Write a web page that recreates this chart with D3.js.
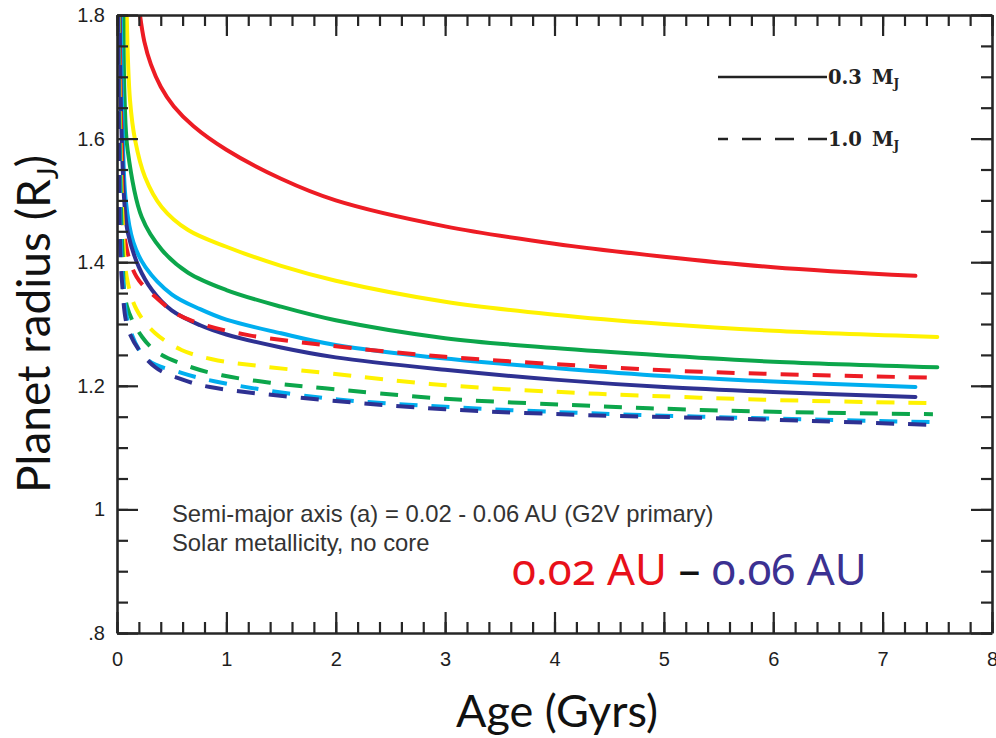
<!DOCTYPE html>
<html>
<head>
<meta charset="utf-8">
<script src="https://cdn.jsdelivr.net/npm/d3@7"></script>
<style>
  body { margin: 0; background: #fff; }
  svg { display: block; }
</style>
</head>
<body>
<svg id="chart" width="996" height="738"></svg>
<script>
// Axis ticks and their labels
const xTicks = [0, 1, 2, 3, 4, 5, 6, 7, 8];
const xTickLabels = ["0", "1", "2", "3", "4", "5", "6", "7", "8"];
const yTicks = [1.8, 1.6, 1.4, 1.2, 1.0, 0.8];
const yTickLabels = ["1.8", "1.6", "1.4", "1.2", "1", ".8"];

// Orbital distances of the five model tracks and their colours
const orbits = ["0.02 AU", "0.03 AU", "0.04 AU", "0.05 AU", "0.06 AU"];
const orbitColors = ["#ed1c24", "#fff200", "#0ca64b", "#00aeef", "#2e3192"];

// Radius (R_J) vs age (Gyr), 0.3 M_J planets: [age, radius]
const light002 = [[0.21,1.80],[0.25,1.757],[0.31,1.720],[0.4,1.684],[0.52,1.652],[0.7,1.620],[1.0,1.582],[1.5,1.535],[2.0,1.500],[3.0,1.458],[4.0,1.430],[5.0,1.409],[6.0,1.392],[7.3,1.378]];
const light003 = [[0.089,1.80],[0.119,1.662],[0.165,1.598],[0.256,1.538],[0.41,1.489],[0.65,1.452],[1.0,1.425],[1.5,1.394],[2.0,1.370],[3.0,1.336],[4.0,1.315],[5.0,1.300],[6.0,1.289],[7.5,1.279]];
const light004 = [[0.058,1.80],[0.07,1.662],[0.097,1.582],[0.226,1.473],[0.41,1.420],[0.65,1.383],[1.0,1.355],[1.5,1.328],[2.0,1.306],[3.0,1.277],[4.0,1.261],[5.0,1.249],[6.0,1.239],[7.5,1.230]];
const light005 = [[0.035,1.80],[0.05,1.63],[0.08,1.50],[0.15,1.432],[0.26,1.392],[0.5,1.348],[0.76,1.324],[1.0,1.307],[1.5,1.285],[2.0,1.266],[3.0,1.244],[4.0,1.229],[5.0,1.216],[6.0,1.207],[7.3,1.198]];
const light006 = [[0.025,1.80],[0.04,1.62],[0.07,1.49],[0.1,1.447],[0.2,1.392],[0.32,1.355],[0.5,1.322],[0.76,1.298],[1.0,1.283],[1.5,1.262],[2.0,1.246],[3.0,1.226],[4.0,1.210],[5.0,1.198],[6.0,1.190],[7.3,1.182]];

// Radius (R_J) vs age (Gyr), 1.0 M_J planets: [age, radius]
const heavy002 = [[0.02,1.80],[0.04,1.60],[0.073,1.436],[0.18,1.376],[0.35,1.344],[0.56,1.315],[0.83,1.297],[1.2,1.282],[1.9,1.266],[3.0,1.247],[4.4,1.231],[5.15,1.224],[6.0,1.219],[7.5,1.213]];
const heavy003 = [[0.015,1.80],[0.03,1.60],[0.05,1.47],[0.089,1.376],[0.18,1.323],[0.35,1.285],[0.59,1.258],[0.87,1.243],[1.3,1.232],[1.9,1.221],[3.0,1.201],[4.4,1.187],[5.15,1.182],[6.0,1.177],[7.4,1.172]];
const heavy004 = [[0.012,1.80],[0.025,1.60],[0.05,1.42],[0.089,1.33],[0.23,1.279],[0.38,1.253],[0.68,1.230],[0.96,1.217],[1.4,1.205],[1.9,1.196],[3.0,1.179],[4.4,1.167],[5.15,1.162],[6.0,1.158],[7.46,1.154]];
const heavy005 = [[0.01,1.80],[0.02,1.60],[0.05,1.38],[0.12,1.29],[0.28,1.242],[0.59,1.221],[0.9,1.207],[1.9,1.180],[3.0,1.166],[4.4,1.155],[5.15,1.151],[6.0,1.147],[7.5,1.141]];
const heavy006 = [[0.01,1.80],[0.018,1.60],[0.045,1.37],[0.12,1.283],[0.35,1.230],[0.6,1.210],[0.85,1.198],[1.9,1.177],[3.0,1.162],[4.4,1.152],[5.15,1.149],[6.0,1.145],[7.4,1.137]];

const lightTracks = [light002, light003, light004, light005, light006];
const heavyTracks = [heavy002, heavy003, heavy004, heavy005, heavy006];

const series = [
  ...lightTracks.map((pts, i) => ({ orbit: orbits[i], mass: 0.3, color: orbitColors[i], dashed: false, pts })),
  ...heavyTracks.map((pts, i) => ({ orbit: orbits[i], mass: 1.0, color: orbitColors[i], dashed: true, pts }))
];

const svg = d3.select("#chart");
svg.append("rect").attr("width", 996).attr("height", 738).attr("fill", "#fff");

const x = d3.scaleLinear().domain([0, 8]).range([117, 992]);
const y = d3.scaleLinear().domain([0.8, 1.8]).range([633, 15]);

const axisColor = "#262626";
const tickFont = "'Liberation Sans', Arial, Helvetica, sans-serif";

// Model tracks, clipped to the plot frame
svg.append("clipPath").attr("id", "plotClip")
  .append("rect")
  .attr("x", x(0)).attr("y", y(1.8))
  .attr("width", x(8) - x(0)).attr("height", y(0.8) - y(1.8));

const line = d3.line()
  .x(d => x(d[0]))
  .y(d => y(d[1]))
  .curve(d3.curveCatmullRom.alpha(0.5));

const tracks = svg.append("g").attr("clip-path", "url(#plotClip)");
tracks.selectAll("path")
  .data(series)
  .join("path")
  .attr("d", d => line(d.pts))
  .attr("fill", "none")
  .attr("stroke", d => d.color)
  .attr("stroke-width", 4)
  .attr("stroke-linecap", d => d.dashed ? "butt" : "round")
  .attr("stroke-dasharray", d => d.dashed ? "18,14" : null);

// Frame axes: minor ticks, then major ticks with labels
function styleAxis(g, keepDomain) {
  g.selectAll(".tick line").attr("stroke", axisColor).attr("stroke-width", 2.2);
  if (keepDomain) g.select(".domain").attr("stroke", axisColor).attr("stroke-width", 2.6);
  else g.select(".domain").remove();
  g.selectAll(".tick text")
    .attr("fill", "#1e1e1e")
    .style("font-family", tickFont)
    .style("font-size", "20px");
}

const xMinor = x.ticks(40);
const yMinor = y.ticks(20);

// bottom
svg.append("g").attr("transform", `translate(0,${y(0.8)})`)
  .call(d3.axisBottom(x).tickValues(xMinor).tickSize(-11).tickSizeOuter(0).tickFormat(""))
  .call(g => styleAxis(g, false));
svg.append("g").attr("transform", `translate(0,${y(0.8)})`)
  .call(d3.axisBottom(x).tickValues(xTicks).tickSize(-21).tickSizeOuter(0).tickPadding(19)
    .tickFormat(d => xTickLabels[xTicks.indexOf(d)]))
  .call(g => styleAxis(g, true));

// top
svg.append("g").attr("transform", `translate(0,${y(1.8)})`)
  .call(d3.axisTop(x).tickValues(xMinor).tickSize(-11).tickSizeOuter(0).tickFormat(""))
  .call(g => styleAxis(g, false));
svg.append("g").attr("transform", `translate(0,${y(1.8)})`)
  .call(d3.axisTop(x).tickValues(xTicks).tickSize(-21).tickSizeOuter(0).tickFormat(""))
  .call(g => styleAxis(g, true));

// left
svg.append("g").attr("transform", `translate(${x(0)},0)`)
  .call(d3.axisLeft(y).tickValues(yMinor).tickSize(-11).tickSizeOuter(0).tickFormat(""))
  .call(g => styleAxis(g, false));
svg.append("g").attr("transform", `translate(${x(0)},0)`)
  .call(d3.axisLeft(y).tickValues(yTicks).tickSize(-21).tickSizeOuter(0).tickPadding(12)
    .tickFormat(d => yTickLabels[yTicks.indexOf(d)]))
  .call(g => styleAxis(g, true));

// right
svg.append("g").attr("transform", `translate(${x(8)},0)`)
  .call(d3.axisRight(y).tickValues(yMinor).tickSize(-11).tickSizeOuter(0).tickFormat(""))
  .call(g => styleAxis(g, false));
svg.append("g").attr("transform", `translate(${x(8)},0)`)
  .call(d3.axisRight(y).tickValues(yTicks).tickSize(-21).tickSizeOuter(0).tickFormat(""))
  .call(g => styleAxis(g, true));

// Mass legend
const legendFont = "'DejaVu Serif', serif";
const legend = svg.append("g").attr("fill", "#222")
  .style("font-family", legendFont).style("font-weight", "bold").style("font-size", "19.5px");

const legendRows = [
  { label: "0.3", dash: null, y: 77 },
  { label: "1.0", dash: "19,14", y: 139 }
];
legendRows.forEach(r => {
  legend.append("line")
    .attr("x1", 827).attr("x2", 718)
    .attr("y1", r.y).attr("y2", r.y)
    .attr("stroke", "#222").attr("stroke-width", 2.4)
    .attr("stroke-dasharray", r.dash);
  const t = legend.append("text").attr("x", 828).attr("y", r.y + 7);
  t.append("tspan").text(r.label);
  t.append("tspan").attr("dx", 10).text("M");
  t.append("tspan").attr("dy", 4).style("font-size", "12px").text("J");
});

// Model description
const note = svg.append("g").attr("fill", "#333")
  .style("font-family", tickFont).style("font-size", "23.8px");
note.append("text").attr("x", 172).attr("y", 522)
  .text("Semi-major axis (a) = 0.02 - 0.06 AU (G2V primary)");
note.append("text").attr("x", 172).attr("y", 551)
  .text("Solar metallicity, no core");

// Orbit range caption
const titleFont = "Lato, 'Open Sans', sans-serif";
const caption = svg.append("text")
  .attr("x", 512).attr("y", 585)
  .style("font-family", "'Noto Sans', sans-serif").style("font-size", "43.8px")
  .style("font-feature-settings", "'onum' 1")
  .style("font-variant-numeric", "oldstyle-nums");
caption.append("tspan").attr("fill", "#e8101a").text(orbits[0]);
caption.append("tspan").attr("fill", "#111").text(" – ");
caption.append("tspan").attr("fill", "#3b3192").text(orbits[4]);

// Axis titles
svg.append("text")
  .attr("x", 557).attr("y", 727)
  .attr("text-anchor", "middle")
  .attr("fill", "#111")
  .style("font-family", titleFont).style("font-size", "45px")
  .text("Age (Gyrs)");

const yTitle = svg.append("text")
  .attr("transform", "translate(50,324) rotate(-90)")
  .attr("text-anchor", "middle")
  .attr("fill", "#111")
  .style("font-family", titleFont).style("font-size", "46px");
yTitle.append("tspan").text("Planet radius (R");
yTitle.append("tspan").attr("dy", 8).style("font-size", "28px").text("J");
yTitle.append("tspan").attr("dy", -8).text(")");
</script>
</body>
</html>
